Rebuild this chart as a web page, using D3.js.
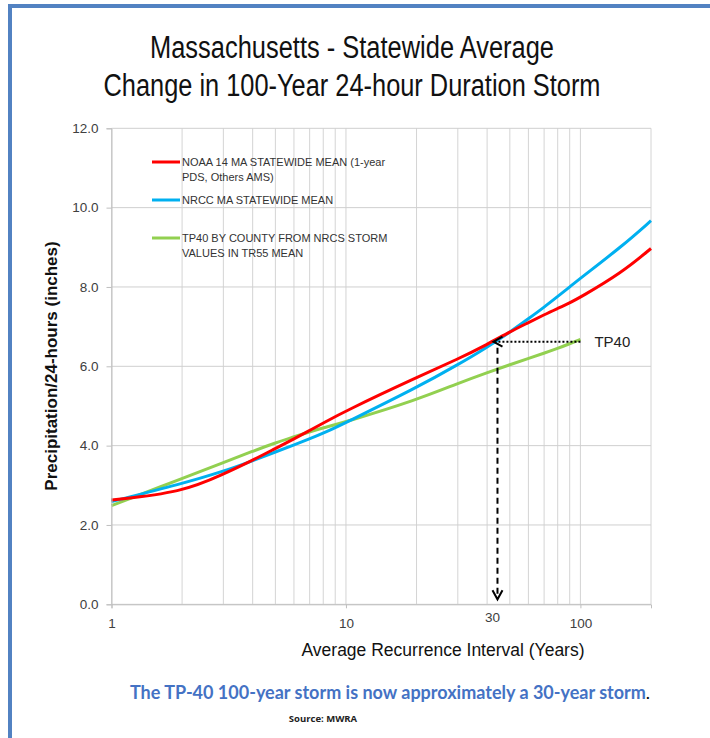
<!DOCTYPE html>
<html>
<head>
<meta charset="utf-8">
<script src="https://cdn.jsdelivr.net/npm/d3@7"></script>
<style>
  body { margin: 0; background: #fff; }
  svg { display: block; }
</style>
</head>
<body>
<script>

// years on the log axis where the curves were read
var years = [1, 2, 3, 4, 5, 6, 7, 8, 10, 20, 30, 40, 50, 60, 70, 80, 90, 100, 150, 200];
var noaa14 = [2.63, 2.82, 3.28, 3.63, 3.93, 4.17, 4.38, 4.57, 4.88, 5.72, 6.18, 6.55, 6.87, 7.10, 7.30, 7.46, 7.60, 7.74, 8.36, 8.97];
var nrcc   = [2.59, 3.04, 3.35, 3.62, 3.84, 4.02, 4.17, 4.31, 4.58, 5.46, 6.04, 6.48, 6.86, 7.20, 7.49, 7.76, 8.00, 8.22, 9.02, 9.67];
var tp40Years = [1, 2, 3, 4, 5, 6, 7, 8, 10, 20, 30, 40, 50, 60, 70, 80, 90, 100];
var tp40   = [2.49, 3.17, 3.57, 3.86, 4.07, 4.22, 4.35, 4.45, 4.60, 5.15, 5.57, 5.84, 6.04, 6.20, 6.33, 6.45, 6.57, 6.68];

var seriesNames = ["NOAA 14 MA STATEWIDE MEAN (1-year|PDS, Others AMS)",
                   "NRCC MA STATEWIDE MEAN",
                   "TP40 BY COUNTY FROM NRCS STORM|VALUES IN TR55 MEAN"];
var seriesColors = ["#ff0000", "#00b0f0", "#92d050"];

var yTicks = [0, 2, 4, 6, 8, 10, 12];
var xLabels = [1, 10, 100];
var xGrid = [1, 2, 3, 4, 5, 6, 7, 8, 9, 10, 20, 30, 40, 50, 60, 70, 80, 90, 100, 200];

// the "TP40 100-yr is now ~30-yr" annotation
var arrowYear = 43;
var arrowValue = 6.62;
var arrowLabel = "30";

var width = 710, height = 738;

var svg = d3.select("body").append("svg")
    .attr("width", width)
    .attr("height", height);

// blue frame on top and left
svg.append("rect").attr("x", 8).attr("y", 4).attr("width", 702).attr("height", 4).attr("fill", "#5282c2");
svg.append("rect").attr("x", 8).attr("y", 4).attr("width", 4).attr("height", 734).attr("fill", "#5282c2");

// title (condensed face in the original, squeeze to its width)
var titleLines = [
  {text: "Massachusetts - Statewide Average", y: 58, w: 404},
  {text: "Change in 100-Year 24-hour Duration Storm", y: 96, w: 497}
];
titleLines.forEach(function(l) {
  svg.append("text")
      .attr("x", 352)
      .attr("y", l.y)
      .attr("text-anchor", "middle")
      .attr("textLength", l.w)
      .attr("lengthAdjust", "spacingAndGlyphs")
      .style("font-family", "'Liberation Sans', Arial, sans-serif")
      .style("font-size", "31px")
      .attr("fill", "#111")
      .text(l.text);
});

var xScale = d3.scaleLog().domain([1, 200]).range([111.5, 651]);
var yScale = d3.scaleLinear().domain([0, 12]).range([604.3, 128.3]);

var plot = svg.append("g");

// grid
plot.selectAll(".vgrid")
    .data(xGrid)
  .enter().append("line")
    .attr("class", "vgrid")
    .attr("x1", function(d) { return xScale(d); })
    .attr("x2", function(d) { return xScale(d); })
    .attr("y1", yScale(12))
    .attr("y2", yScale(0))
    .attr("stroke", "#d4d4d4")
    .attr("stroke-width", 1);

plot.selectAll(".hgrid")
    .data(yTicks)
  .enter().append("line")
    .attr("class", "hgrid")
    .attr("x1", xScale(1))
    .attr("x2", xScale(200))
    .attr("y1", function(d) { return yScale(d); })
    .attr("y2", function(d) { return yScale(d); })
    .attr("stroke", "#cfcfcf")
    .attr("stroke-width", 1);

// y axis
var yAxis = d3.axisLeft(yScale)
    .tickValues(yTicks)
    .tickFormat(d3.format(".1f"))
    .tickSize(5)
    .tickPadding(8);

var gy = svg.append("g")
    .attr("transform", "translate(" + xScale(1) + ",0)")
    .call(yAxis);
gy.select(".domain").attr("stroke", "#bfbfbf");
gy.selectAll(".tick line").attr("stroke", "#bfbfbf");
gy.selectAll(".tick text")
    .attr("fill", "#404040")
    .style("font-family", "'Liberation Sans', Arial, sans-serif")
    .style("font-size", "13.5px");

// x axis
var xAxis = d3.axisBottom(xScale)
    .tickValues(xLabels)
    .tickFormat(d3.format("d"))
    .tickSize(4)
    .tickPadding(10);

var gx = svg.append("g")
    .attr("transform", "translate(0," + yScale(0) + ")")
    .call(xAxis);
gx.select(".domain").attr("stroke", "#bfbfbf");
gx.selectAll(".tick line").attr("stroke", "#bfbfbf");
gx.selectAll(".tick text")
    .attr("fill", "#404040")
    .style("font-family", "'Liberation Sans', Arial, sans-serif")
    .style("font-size", "13.5px");

// curves
var series = [
  {xs: years, ys: noaa14},
  {xs: years, ys: nrcc},
  {xs: tp40Years, ys: tp40}
];

var line = d3.line()
    .x(function(d) { return xScale(d[0]); })
    .y(function(d) { return yScale(d[1]); })
    .curve(d3.curveBasis);

// draw green first so red/blue sit on top
[2, 1, 0].forEach(function(i) {
  var pts = series[i].xs.map(function(x, j) { return [x, series[i].ys[j]]; });
  plot.append("path")
      .datum(pts)
      .attr("d", line)
      .attr("fill", "none")
      .attr("stroke", seriesColors[i])
      .attr("stroke-width", 3)
      .attr("stroke-linejoin", "round");
});

// legend
var legendY = [162, 200, 238];
var legend = svg.append("g")
    .style("font-family", "'Liberation Sans', Arial, sans-serif")
    .style("font-size", "11px");

seriesNames.forEach(function(name, i) {
  legend.append("line")
      .attr("x1", 152).attr("x2", 180)
      .attr("y1", legendY[i]).attr("y2", legendY[i])
      .attr("stroke", seriesColors[i])
      .attr("stroke-width", 3);
  var parts = name.split("|");
  var t = legend.append("text").attr("fill", "#333");
  parts.forEach(function(p, k) {
    t.append("tspan")
        .attr("x", 182)
        .attr("y", legendY[i] + 4 + k * 15)
        .text(p);
  });
});

// annotation arrows
var ax = xScale(arrowYear), ay = yScale(arrowValue);
var tpEndX = xScale(tp40Years[tp40Years.length - 1]);

svg.append("line")
    .attr("x1", tpEndX).attr("y1", ay)
    .attr("x2", ax - 2).attr("y2", ay)
    .attr("stroke", "#000")
    .attr("stroke-width", 2)
    .attr("stroke-dasharray", "2,2");
svg.append("path")
    .attr("d", "M" + (ax + 8) + "," + (ay - 5) + "L" + (ax - 1) + "," + ay + "L" + (ax + 8) + "," + (ay + 5))
    .attr("fill", "none")
    .attr("stroke", "#000")
    .attr("stroke-width", 2);

var vTop = yScale(arrowValue - 0.15), vBot = yScale(0.15);
svg.append("line")
    .attr("x1", ax + 3).attr("y1", vTop)
    .attr("x2", ax + 3).attr("y2", vBot)
    .attr("stroke", "#000")
    .attr("stroke-width", 2)
    .attr("stroke-dasharray", "6,4");
svg.append("path")
    .attr("d", "M" + (ax - 2) + "," + (vBot - 8) + "L" + (ax + 3) + "," + (vBot + 1) + "L" + (ax + 8) + "," + (vBot - 8))
    .attr("fill", "none")
    .attr("stroke", "#000")
    .attr("stroke-width", 2);

svg.append("text")
    .attr("x", ax - 2)
    .attr("y", yScale(0) + 18)
    .attr("text-anchor", "middle")
    .attr("fill", "#404040")
    .style("font-family", "'Liberation Sans', Arial, sans-serif")
    .style("font-size", "13.5px")
    .text(arrowLabel);

svg.append("text")
    .attr("x", tpEndX + 14)
    .attr("y", ay + 5)
    .attr("fill", "#222")
    .style("font-family", "'Liberation Sans', Arial, sans-serif")
    .style("font-size", "15px")
    .text("TP40");

// axis titles
svg.append("text")
    .attr("x", 443)
    .attr("y", 656)
    .attr("text-anchor", "middle")
    .attr("fill", "#111")
    .style("font-family", "'Liberation Sans', Arial, sans-serif")
    .style("font-size", "17.5px")
    .text("Average Recurrence Interval (Years)");

svg.append("text")
    .attr("transform", "translate(57,366) rotate(-90)")
    .attr("text-anchor", "middle")
    .attr("fill", "#111")
    .style("font-family", "'Liberation Sans', Arial, sans-serif")
    .style("font-size", "17px")
    .style("font-weight", "bold")
    .text("Precipitation/24-hours (inches)");

// caption
var cap = svg.append("text")
    .attr("x", 390)
    .attr("y", 699)
    .attr("text-anchor", "middle")
    .style("font-family", "Lato, 'Open Sans', sans-serif")
    .style("font-size", "18px")
    .style("font-weight", "bold");
cap.append("tspan").attr("fill", "#4472c4").text("The TP-40 100-year storm is now approximately a 30-year storm");
cap.append("tspan").attr("fill", "#000").style("font-weight", "normal").text(".");

svg.append("text")
    .attr("x", 323)
    .attr("y", 722)
    .attr("text-anchor", "middle")
    .attr("fill", "#222")
    .style("font-family", "'Open Sans', sans-serif")
    .style("font-size", "9.5px")
    .style("font-weight", "bold")
    .text("Source: MWRA");

</script>
</body>
</html>
